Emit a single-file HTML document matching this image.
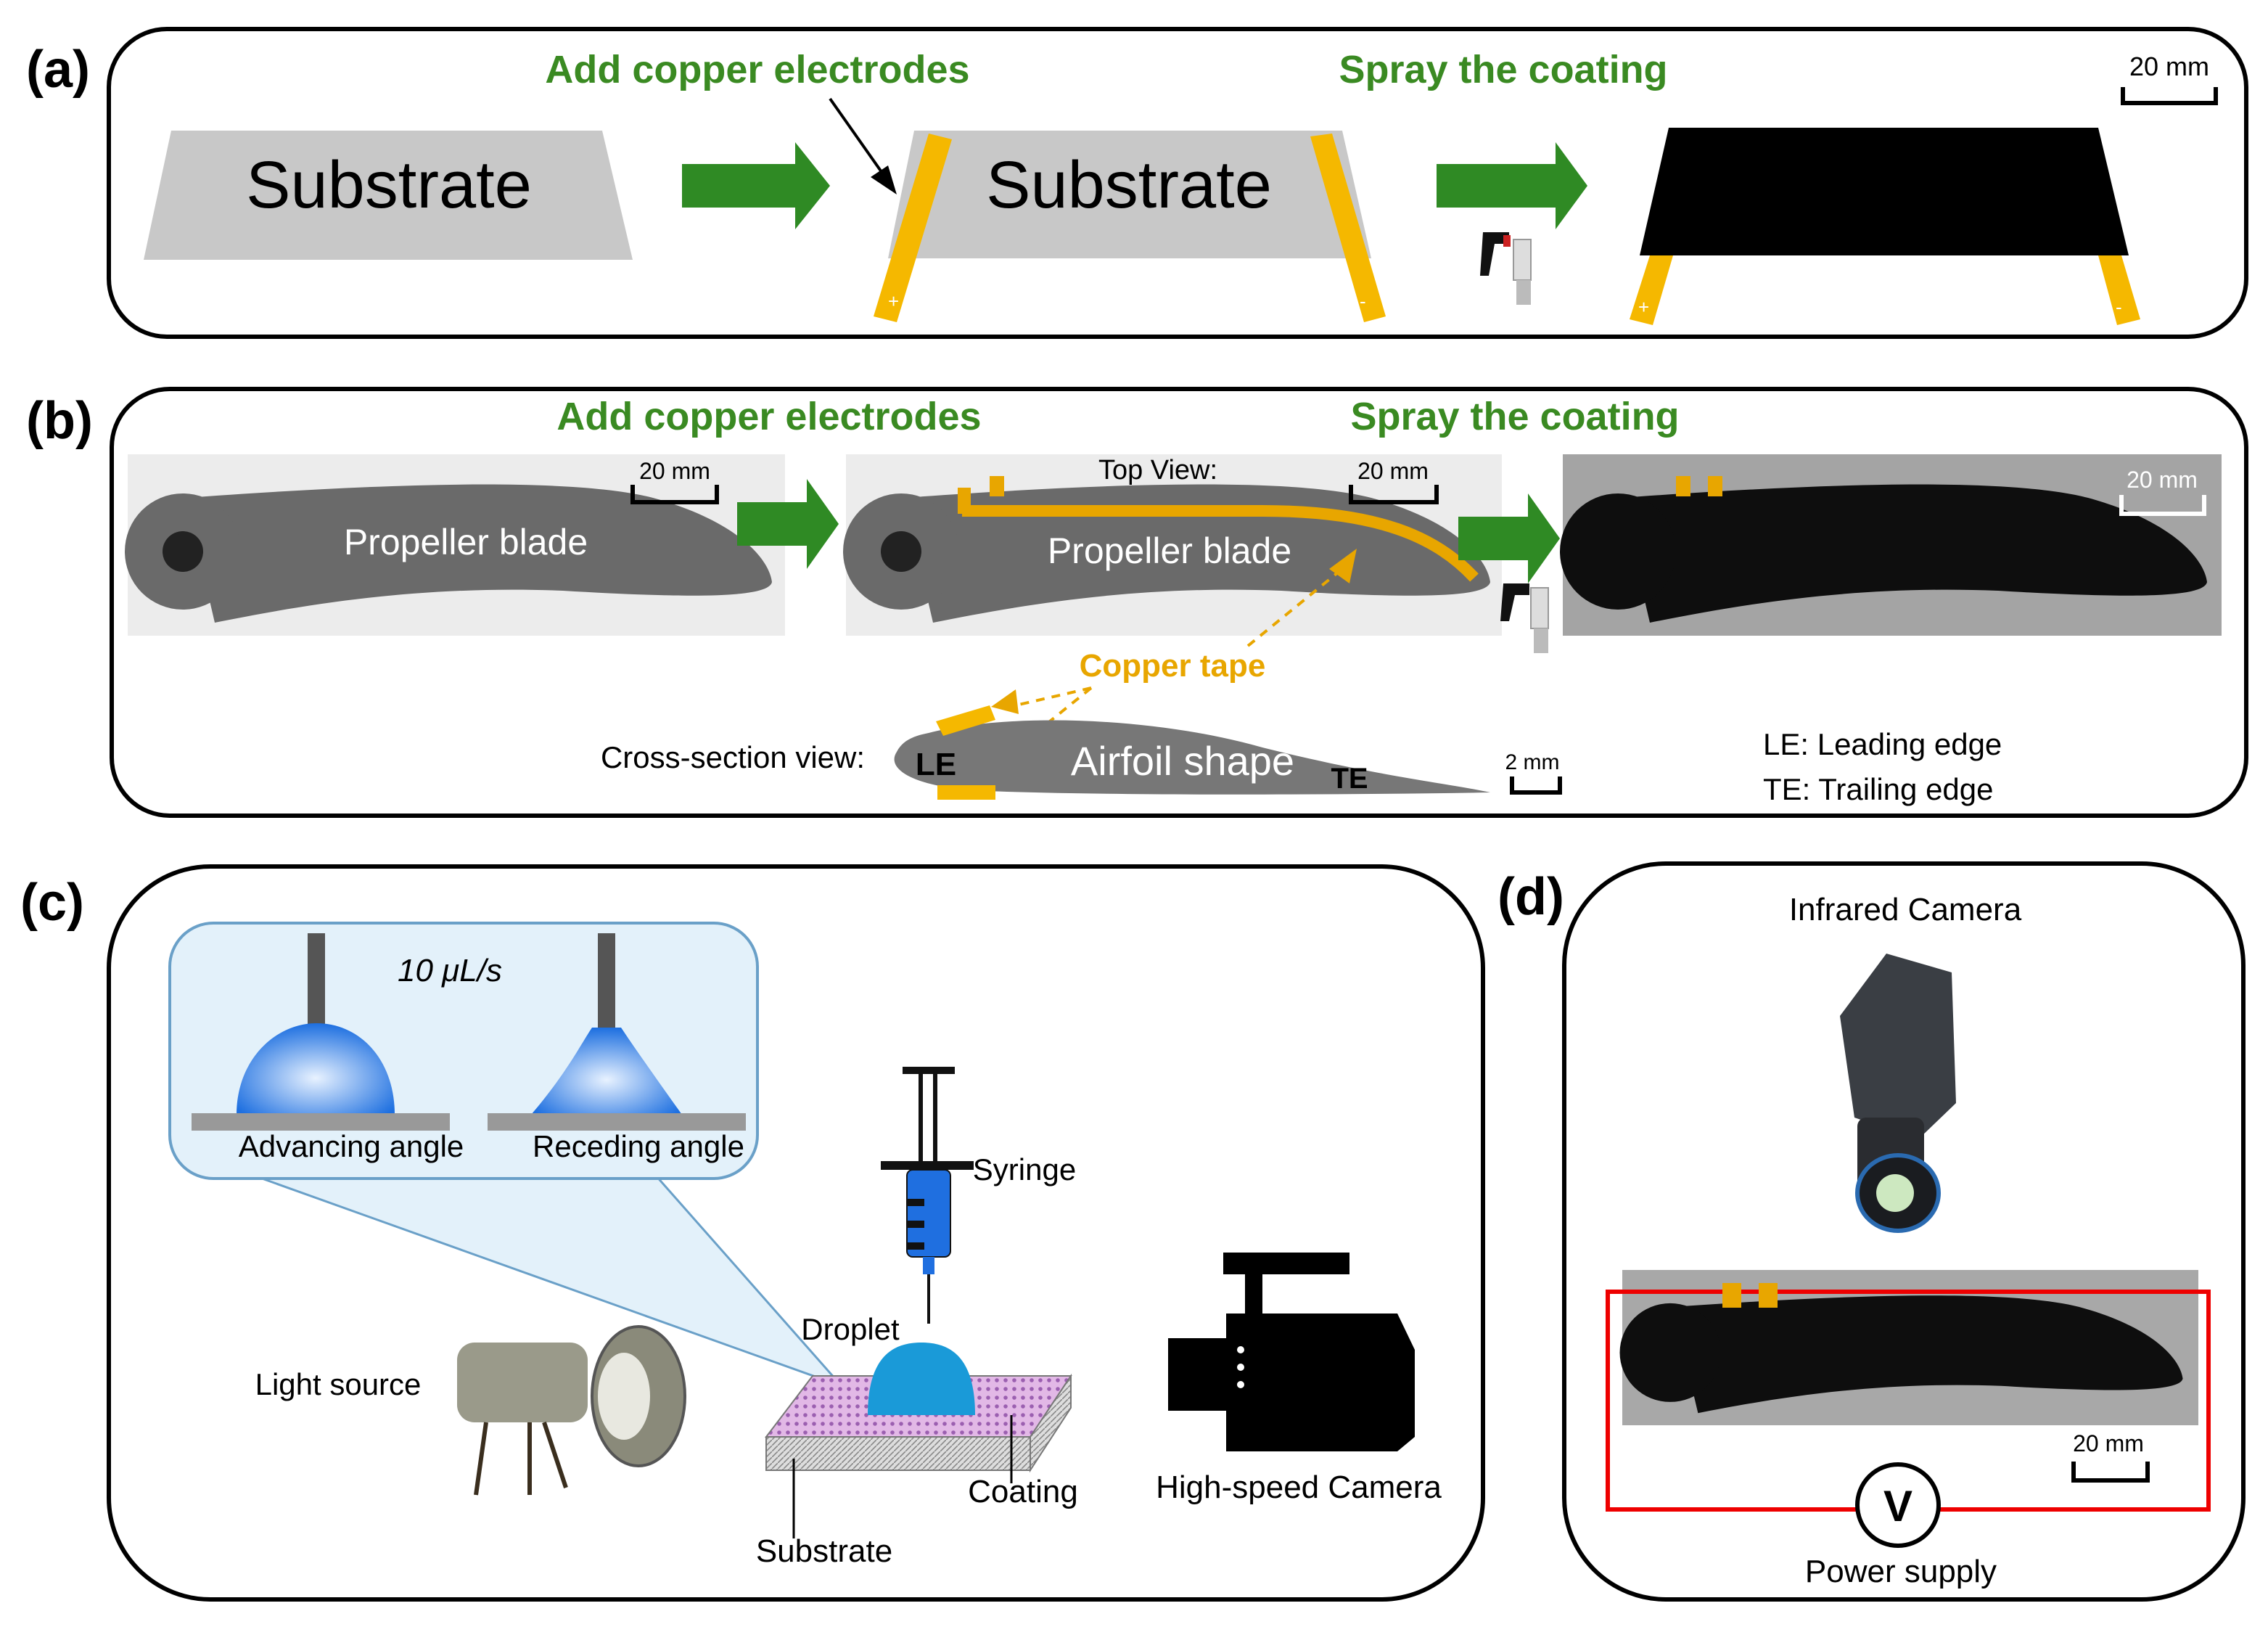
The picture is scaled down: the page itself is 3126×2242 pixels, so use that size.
<!DOCTYPE html>
<html><head><meta charset="utf-8"><style>
html,body{margin:0;padding:0;background:#fff}
svg{display:block}
text{font-family:"Liberation Sans",sans-serif}
</style></head><body>
<svg width="3126" height="2242" viewBox="0 0 1563 1121" xmlns="http://www.w3.org/2000/svg">
<defs>
<g id="blade">
<path d="M40,30 C150,22 300,14 362,30 C420,46 442,72 444,88 C442,98 400,100 300,94 C200,90 120,104 60,116 Z"/>
<circle cx="38" cy="67" r="40"/>
</g>
<pattern id="pp" width="6" height="6" patternUnits="userSpaceOnUse"><rect width="6" height="6" fill="#e2b8e6"/><circle cx="3" cy="3" r="1.4" fill="#9b5fb0"/></pattern>
<pattern id="gp" width="4" height="4" patternUnits="userSpaceOnUse"><rect width="4" height="4" fill="#ddd"/><path d="M0,4 L4,0" stroke="#888" stroke-width="0.8"/></pattern>
<radialGradient id="dg" cx="0.5" cy="0.6" r="0.6"><stop offset="0" stop-color="#e8f2ff"/><stop offset="1" stop-color="#1d6fe0"/></radialGradient>
</defs>

<!-- Panel a -->
<rect x="75" y="20" width="1473" height="212" rx="40" fill="none" stroke="#000" stroke-width="3"/>
<text x="18" y="60" font-size="36" font-weight="bold">(a)</text>
<text x="522" y="57" font-size="27" font-weight="bold" fill="#3a8a22" text-anchor="middle">Add copper electrodes</text>
<text x="1036" y="57" font-size="27" font-weight="bold" fill="#3a8a22" text-anchor="middle">Spray the coating</text>
<text x="1495" y="52" font-size="18" text-anchor="middle">20 mm</text>
<path d="M1463,60 V71 H1527 V60" fill="none" stroke="#000" stroke-width="3"/>
<polygon points="118,90 415,90 436,179 99,179" fill="#c8c8c8"/>
<text x="268" y="143" font-size="46" text-anchor="middle">Substrate</text>
<polygon points="470,113 548,113 548,98 572,128 548,158 548,143 470,143" fill="#2f8a24"/>
<polygon points="630,90 925,90 945,178 612,178" fill="#c8c8c8"/>
<text x="778" y="143" font-size="46" text-anchor="middle">Substrate</text>
<polygon points="640,92 656,96 618,222 602,218" fill="#f5b800"/>
<polygon points="903,94 918,92 955,218 940,222" fill="#f5b800"/>
<text x="612" y="212" font-size="13" fill="#fff">+</text>
<text x="937" y="212" font-size="13" fill="#fff">-</text>
<line x1="572" y1="68" x2="610" y2="122" stroke="#000" stroke-width="2"/>
<polygon points="618,134 600,122 612,114" fill="#000"/>
<polygon points="990,113 1072,113 1072,98 1094,128 1072,158 1072,143 990,143" fill="#2f8a24"/>
<path d="M1022,160 h18 v8 h-10 l-4,22 h-6 z" fill="#111"/>
<rect x="1036" y="162" width="5" height="8" fill="#c22"/>
<rect x="1043" y="165" width="12" height="28" fill="#ddd" stroke="#999"/>
<rect x="1045" y="193" width="10" height="17" fill="#bbb"/>
<polygon points="1150,88 1446,88 1467,176 1130,176" fill="#000"/>
<polygon points="1137,176 1153,176 1139,224 1123,220" fill="#f5b800"/>
<polygon points="1446,176 1462,176 1475,220 1459,224" fill="#f5b800"/>
<text x="1129" y="216" font-size="13" fill="#fff">+</text>
<text x="1458" y="216" font-size="13" fill="#fff">-</text>

<!-- Panel b -->
<rect x="77" y="268" width="1471" height="294" rx="40" fill="none" stroke="#000" stroke-width="3"/>
<text x="18" y="302" font-size="36" font-weight="bold">(b)</text>
<text x="530" y="296" font-size="27" font-weight="bold" fill="#3a8a22" text-anchor="middle">Add copper electrodes</text>
<text x="1044" y="296" font-size="27" font-weight="bold" fill="#3a8a22" text-anchor="middle">Spray the coating</text>
<rect x="88" y="313" width="453" height="125" fill="#ececec"/>
<g transform="translate(88,313)" fill="#6a6a6a"><use href="#blade"/></g>
<circle cx="126" cy="380" r="14" fill="#222"/>
<text x="321" y="382" font-size="25" fill="#fff" text-anchor="middle">Propeller blade</text>
<text x="465" y="330" font-size="16" text-anchor="middle">20 mm</text>
<path d="M436,334 V346 H494 V334" fill="none" stroke="#000" stroke-width="3"/>
<polygon points="508,346 556,346 556,330 578,361 556,392 556,376 508,376" fill="#2f8a24"/>
<rect x="583" y="313" width="452" height="125" fill="#ececec"/>
<g transform="translate(583,313)" fill="#6a6a6a"><use href="#blade"/></g>
<circle cx="621" cy="380" r="14" fill="#222"/>
<path d="M663,352 L870,352 C950,352 990,370 1016,398" fill="none" stroke="#e8a600" stroke-width="8"/>
<rect x="660" y="336" width="9" height="18" fill="#e8a600"/><rect x="682" y="328" width="10" height="14" fill="#e8a600"/>
<text x="806" y="388" font-size="25" fill="#fff" text-anchor="middle">Propeller blade</text>
<text x="798" y="330" font-size="19" text-anchor="middle">Top View:</text>
<text x="960" y="330" font-size="16" text-anchor="middle">20 mm</text>
<path d="M931,334 V346 H990 V334" fill="none" stroke="#000" stroke-width="3"/>
<polygon points="1005,356 1053,356 1053,340 1075,371 1053,402 1053,386 1005,386" fill="#2f8a24"/>
<path d="M1036,402 h18 v8 h-10 l-4,18 h-6 z" fill="#111"/>
<rect x="1055" y="405" width="12" height="28" fill="#ddd" stroke="#999"/>
<rect x="1057" y="433" width="10" height="17" fill="#bbb"/>
<rect x="1077" y="313" width="454" height="125" fill="#a4a4a4"/>
<g transform="translate(1077,313)" fill="#0e0e0e"><use href="#blade"/></g>
<rect x="1155" y="328" width="10" height="14" fill="#e8a600"/><rect x="1177" y="328" width="10" height="14" fill="#e8a600"/>
<text x="1490" y="336" font-size="16" fill="#fff" text-anchor="middle">20 mm</text>
<path d="M1462,341 V354 H1519 V341" fill="none" stroke="#fff" stroke-width="3"/>
<text x="808" y="466" font-size="22" font-weight="bold" fill="#e8a600" text-anchor="middle">Copper tape</text>
<g stroke="#e8a600" stroke-width="2" stroke-dasharray="6,5" fill="none">
<line x1="860" y1="445" x2="925" y2="392"/>
<line x1="752" y1="474" x2="700" y2="486"/>
<line x1="752" y1="474" x2="685" y2="528"/>
</g>
<polygon points="935,378 930,402 916,392" fill="#e8a600"/>
<polygon points="683,487 700,475 702,492" fill="#e8a600"/>
<polygon points="676,540 680,522 692,532" fill="#e8a600"/>
<path d="M640,505 C700,490 800,495 870,515 C950,535 1000,540 1027,546 C900,548 760,548 680,545 C630,543 610,530 618,518 C622,510 630,507 640,505 Z" fill="#777"/>
<polygon points="645,497 682,486 686,496 650,507" fill="#f5b800"/>
<rect x="646" y="541" width="40" height="10" fill="#f5b800"/>
<text x="645" y="534" font-size="22" font-weight="bold" text-anchor="middle">LE</text>
<text x="815" y="534" font-size="28" fill="#fff" text-anchor="middle">Airfoil shape</text>
<text x="930" y="543" font-size="20" font-weight="bold" text-anchor="middle">TE</text>
<text x="505" y="529" font-size="21" text-anchor="middle">Cross-section view:</text>
<text x="1056" y="530" font-size="15" text-anchor="middle">2 mm</text>
<path d="M1042,535 V546 H1075 V535" fill="none" stroke="#000" stroke-width="3"/>
<text x="1215" y="520" font-size="21">LE: Leading edge</text>
<text x="1215" y="551" font-size="21">TE: Trailing edge</text>

<!-- Panel c -->
<rect x="75" y="597" width="947" height="505" rx="70" fill="none" stroke="#000" stroke-width="3"/>
<text x="14" y="634" font-size="36" font-weight="bold">(c)</text>
<polygon points="175,810 350,810 452,810 580,955" fill="#e3f1fa" stroke="#6aa0c8" stroke-width="1.5"/>
<rect x="117" y="636" width="405" height="176" rx="30" fill="#e3f1fa" stroke="#6aa0c8" stroke-width="2"/>
<rect x="212" y="643" width="12" height="66" fill="#555"/>
<rect x="412" y="643" width="12" height="66" fill="#555"/>
<path d="M163,768 C163,730 190,705 218,705 C248,705 272,730 272,768 Z" fill="url(#dg)"/>
<path d="M366,768 C390,740 400,720 408,708 L428,708 C436,720 450,740 470,768 Z" fill="url(#dg)"/>
<rect x="132" y="767" width="178" height="12" fill="#999"/>
<rect x="336" y="767" width="178" height="12" fill="#999"/>
<text x="310" y="676" font-size="22" font-style="italic" font-family="Liberation Serif,serif" text-anchor="middle">10 μL/s</text>
<text x="242" y="797" font-size="21" text-anchor="middle">Advancing angle</text>
<text x="440" y="797" font-size="21" text-anchor="middle">Receding angle</text>
<rect x="622" y="735" width="36" height="5" fill="#111"/>
<rect x="633" y="740" width="3" height="62" fill="#111"/><rect x="643" y="740" width="3" height="62" fill="#111"/>
<rect x="607" y="800" width="64" height="6" fill="#111"/>
<rect x="625" y="806" width="30" height="60" rx="4" fill="#1f6fe0" stroke="#111" stroke-width="1"/>
<rect x="625" y="826" width="12" height="5" fill="#111"/><rect x="625" y="841" width="12" height="5" fill="#111"/><rect x="625" y="856" width="12" height="5" fill="#111"/>
<rect x="636" y="866" width="8" height="12" fill="#1f6fe0"/>
<line x1="640" y1="878" x2="640" y2="912" stroke="#111" stroke-width="2"/>
<text x="706" y="813" font-size="21" text-anchor="middle">Syringe</text>
<text x="586" y="923" font-size="21" text-anchor="middle">Droplet</text>
<polygon points="560,948 738,948 710,990 528,990" fill="url(#pp)" stroke="#777"/>
<polygon points="528,990 710,990 710,1013 528,1013" fill="url(#gp)" stroke="#777"/>
<polygon points="710,990 738,948 738,970 710,1013" fill="url(#gp)" stroke="#777"/>
<path d="M598,975 C598,935 615,925 635,925 C655,925 672,935 672,975 Z" fill="#1a9ad8"/>
<line x1="697" y1="1022" x2="697" y2="975" stroke="#000" stroke-width="1.5"/>
<line x1="547" y1="1060" x2="547" y2="1005" stroke="#000" stroke-width="1.5"/>
<text x="705" y="1035" font-size="22" text-anchor="middle">Coating</text>
<text x="568" y="1076" font-size="22" text-anchor="middle">Substrate</text>
<text x="233" y="961" font-size="21" text-anchor="middle">Light source</text>
<rect x="315" y="925" width="90" height="55" rx="12" fill="#9a9a8a"/>
<ellipse cx="440" cy="962" rx="32" ry="48" fill="#8a8a7a" stroke="#555" stroke-width="2"/>
<ellipse cx="430" cy="962" rx="18" ry="30" fill="#e8e8e0"/>
<line x1="335" y1="980" x2="328" y2="1030" stroke="#3a2e1e" stroke-width="3"/>
<line x1="365" y1="980" x2="365" y2="1030" stroke="#3a2e1e" stroke-width="3"/>
<line x1="375" y1="980" x2="390" y2="1025" stroke="#3a2e1e" stroke-width="3"/>
<rect x="843" y="863" width="87" height="15" fill="#000"/>
<rect x="858" y="878" width="12" height="28" fill="#000"/>
<path d="M845,905 H963 L975,930 V990 L963,1000 H845 Z" fill="#000"/>
<rect x="805" y="922" width="40" height="50" fill="#000"/>
<circle cx="855" cy="930" r="2.5" fill="#fff"/><circle cx="855" cy="942" r="2.5" fill="#fff"/><circle cx="855" cy="954" r="2.5" fill="#fff"/>
<text x="895" y="1032" font-size="22" text-anchor="middle">High-speed Camera</text>

<!-- Panel d -->
<rect x="1078" y="595" width="468" height="507" rx="70" fill="none" stroke="#000" stroke-width="3"/>
<text x="1032" y="630" font-size="36" font-weight="bold">(d)</text>
<text x="1313" y="634" font-size="22" text-anchor="middle">Infrared Camera</text>
<path d="M1300,657 L1345,670 L1348,760 L1322,785 L1278,770 L1268,700 Z" fill="#3a3e44"/>
<rect x="1280" y="770" width="46" height="55" rx="6" fill="#2a2c30"/>
<ellipse cx="1308" cy="822" rx="28" ry="26" fill="#1a1c20" stroke="#2a6ab0" stroke-width="3"/>
<circle cx="1306" cy="822" r="13" fill="#cde8c0"/>
<rect x="1118" y="875" width="397" height="107" fill="#a8a8a8"/>
<g transform="translate(1118,875) scale(0.87,0.85)" fill="#0e0e0e"><use href="#blade"/></g>
<rect x="1108" y="890" width="414" height="150" fill="none" stroke="#e00" stroke-width="3"/>
<rect x="1187" y="884" width="13" height="17" fill="#e8a600"/><rect x="1212" y="884" width="13" height="17" fill="#e8a600"/>
<text x="1453" y="1000" font-size="16" text-anchor="middle">20 mm</text>
<path d="M1429,1007 V1020 H1480 V1007" fill="none" stroke="#000" stroke-width="3"/>
<circle cx="1308" cy="1037" r="28" fill="#fff" stroke="#000" stroke-width="3"/>
<text x="1308" y="1048" font-size="30" font-weight="bold" text-anchor="middle">V</text>
<text x="1310" y="1090" font-size="22" text-anchor="middle">Power supply</text>
</svg>
</body></html>
